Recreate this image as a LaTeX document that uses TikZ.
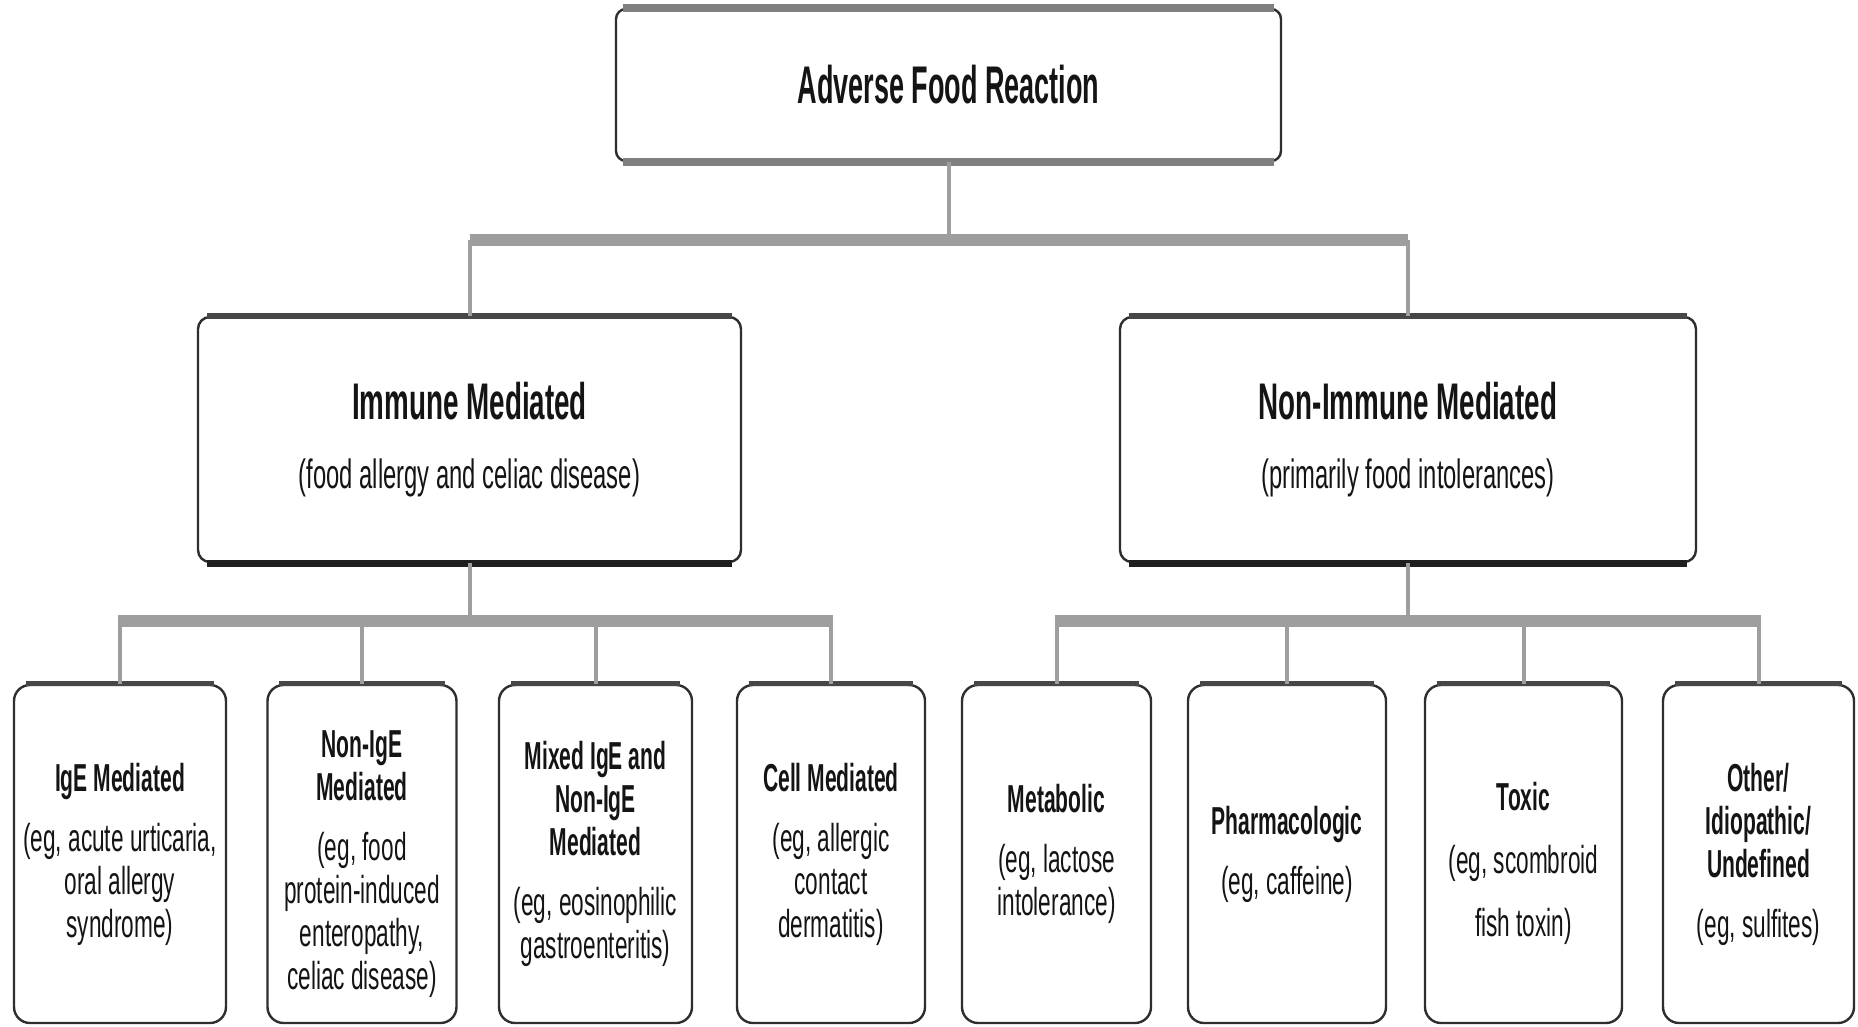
\documentclass[tikz,border=0pt]{standalone}
\usepackage{fontspec}
\newfontfamily\topfont{Liberation Sans}[FakeStretch=0.51]
\newfontfamily\tfont{Liberation Sans}[FakeStretch=0.54]
\newfontfamily\rfont{Liberation Sans}[FakeStretch=0.58]
\newcommand\ttl[1]{{\tfont\bfseries #1}}
\newcommand\lowerstrut{\rule{0pt}{48pt}}
\begin{document}
\begin{tikzpicture}[x=1pt,y=-1pt,
  box/.style={draw=black!82, line width=2.4pt, fill=white, align=center, inner sep=0pt, text=black!92},
  topbox/.style={box, rounded corners=10pt, font=\topfont\bfseries\fontsize{53}{60}\selectfont},
  midbox/.style={box, rounded corners=12pt, font=\rfont\fontsize{41}{58}\selectfont},
  leaf/.style={box, rounded corners=16pt, minimum height=338pt, font=\rfont\fontsize{39}{43}\selectfont},
  vline/.style={line width=4pt, black!38},
  hbar/.style={line width=12pt, black!38},
  bandgray/.style={line width=8pt, black!50},
  banddark/.style={line width=6pt, black!72},
  bandblack/.style={line width=7pt, black!88},
]
\useasboundingbox (0,0) rectangle (1858,1027);

% --- nodes
\node[topbox, minimum width=665pt, minimum height=152pt] (afr) at (948.5,85)
  {Adverse Food Reaction};

\node[midbox, minimum width=543pt, minimum height=245pt] (im) at (469.5,439.5)
  {{\tfont\bfseries\fontsize{51.5}{58}\selectfont Immune Mediated}\\[11pt]
   (food allergy and celiac disease)};
\node[midbox, minimum width=576pt, minimum height=245pt] (nim) at (1408,439.5)
  {{\tfont\bfseries\fontsize{51.5}{58}\selectfont Non-Immune Mediated}\\[11pt]
   (primarily food intolerances)};

\node[leaf, minimum width=212pt] (l1) at (120,854)
  {\ttl{IgE Mediated}\\[17pt](eg, acute urticaria,\\oral allergy\\syndrome)};
\node[leaf, minimum width=189pt] (l2) at (362,854)
  {\lowerstrut\ttl{Non-IgE}\\\ttl{Mediated}\\[17pt](eg, food\\protein-induced\\enteropathy,\\celiac disease)};
\node[leaf, minimum width=193pt] (l3) at (595.5,854)
  {\ttl{Mixed IgE and}\\\ttl{Non-IgE}\\\ttl{Mediated}\\[17pt](eg, eosinophilic\\gastroenteritis)};
\node[leaf, minimum width=188pt] (l4) at (831,854)
  {\ttl{Cell Mediated}\\[17pt](eg, allergic\\contact\\dermatitis)};
\node[leaf, minimum width=189pt] (l5) at (1056.5,854)
  {\ttl{Metabolic}\\[17pt](eg, lactose\\intolerance)};
\node[leaf, minimum width=198pt] (l6) at (1287,854)
  {\ttl{Pharmacologic}\\[17pt](eg, caffeine)};
\node[leaf, minimum width=197pt] (l7) at (1523.5,854)
  {\lowerstrut\ttl{Toxic}\\[20pt](eg, scombroid\\[20pt]fish toxin)};
\node[leaf, minimum width=191pt] (l8) at (1758.5,854)
  {\ttl{Other/}\\\ttl{Idiopathic/}\\\ttl{Undefined}\\[17pt](eg, sulfites)};

% --- heavier top/bottom edges of the boxes
\draw[bandgray] ([xshift=8pt]afr.north west) -- ([xshift=-8pt]afr.north east);
\draw[bandgray] ([xshift=8pt]afr.south west) -- ([xshift=-8pt]afr.south east);
\foreach \n in {im,nim}{
  \draw[banddark] ([xshift=10pt]\n.north west) -- ([xshift=-10pt]\n.north east);
  \draw[bandblack] ([xshift=10pt]\n.south west) -- ([xshift=-10pt]\n.south east);
}
\foreach \n in {l1,l2,l3,l4,l5,l6,l7,l8}{
  \draw[banddark, line width=5pt] ([xshift=13pt]\n.north west) -- ([xshift=-13pt]\n.north east);
}

% --- connectors
\coordinate (j0) at (948.5,240);
\draw[vline] (afr.south) -- (j0);
\draw[hbar] (j0 -| im.north) -- (j0 -| nim.north);
\draw[vline] (j0 -| im.north) -- (im.north);
\draw[vline] (j0 -| nim.north) -- (nim.north);

\coordinate (j1) at (469.5,621);
\draw[vline] (im.south) -- (j1);
\draw[hbar] ([xshift=-2pt]j1 -| l1.north) -- ([xshift=2pt]j1 -| l4.north);
\foreach \n in {l1,l2,l3,l4}{ \draw[vline] (j1 -| \n.north) -- (\n.north); }

\coordinate (j2) at (1408,621);
\draw[vline] (nim.south) -- (j2);
\draw[hbar] ([xshift=-2pt]j2 -| l5.north) -- ([xshift=2pt]j2 -| l8.north);
\foreach \n in {l5,l6,l7,l8}{ \draw[vline] (j2 -| \n.north) -- (\n.north); }
\end{tikzpicture}
\end{document}
